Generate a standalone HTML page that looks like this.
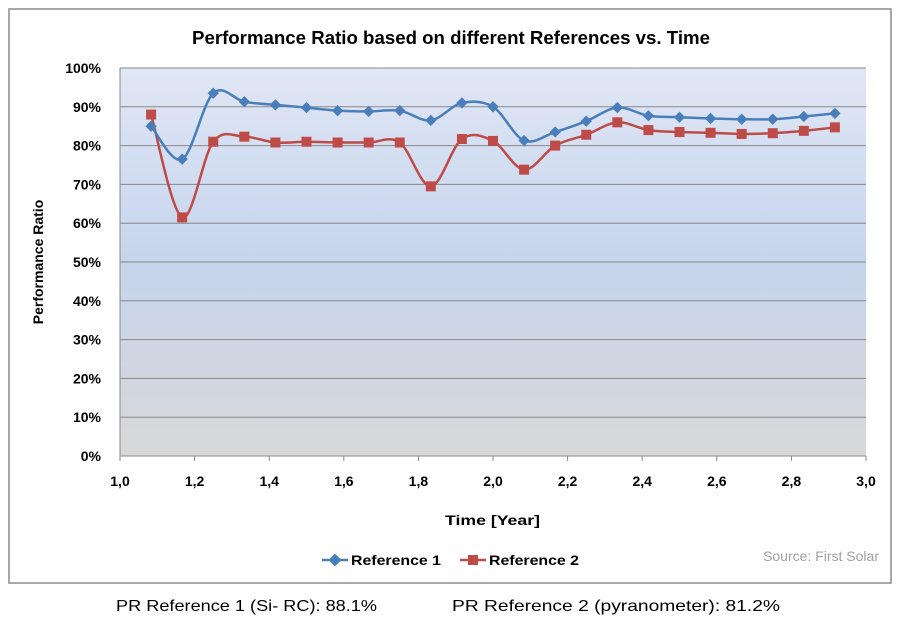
<!DOCTYPE html>
<html><head><meta charset="utf-8"><style>
body{margin:0;background:#fff;width:906px;height:628px;overflow:hidden;font-family:"Liberation Sans",sans-serif}
</style></head><body>
<svg id="s" width="906" height="628" xmlns="http://www.w3.org/2000/svg" font-family="Liberation Sans, sans-serif">
<defs>
<linearGradient id="g" x1="0" y1="0" x2="0" y2="1">
<stop offset="0" stop-color="#e0e7f5"/>
<stop offset="0.5" stop-color="#c6d4ec"/>
<stop offset="1" stop-color="#d8d8d8"/>
</linearGradient>
</defs>
<rect x="9" y="9" width="882" height="574" fill="#fff" stroke="#8c8c8c" stroke-width="1.5"/>
<text x="192" y="44" font-size="18" font-weight="bold" fill="#000" textLength="518" lengthAdjust="spacingAndGlyphs">Performance Ratio based on different References vs. Time</text>
<rect x="120" y="68" width="746" height="388" fill="url(#g)"/>
<g id="grid" stroke="#888" stroke-width="1"></g>
<line x1="120" y1="68" x2="120" y2="456" stroke="#888"/>
<g id="yl" font-size="14" font-weight="bold" text-anchor="end"></g>
<g id="xl" font-size="14" font-weight="bold" text-anchor="middle"></g>
<text x="445" y="525" font-size="14" font-weight="bold" textLength="95" lengthAdjust="spacingAndGlyphs">Time  [Year]</text>
<text transform="translate(43,262) rotate(-90)" text-anchor="middle" font-size="14" font-weight="bold">Performance Ratio</text>
<g id="series"></g>
<line x1="322" y1="560" x2="348" y2="560" stroke="#4a7ebb" stroke-width="2.5"/>
<rect x="330.5" y="555.5" width="9" height="9" fill="#4a7ebb" transform="rotate(45 335 560)"/>
<text x="351" y="565" font-size="14" font-weight="bold" textLength="90" lengthAdjust="spacingAndGlyphs">Reference 1</text>
<line x1="460" y1="560" x2="486" y2="560" stroke="#be4b48" stroke-width="2.5"/>
<rect x="468" y="555" width="10" height="10" fill="#be4b48"/>
<text x="489" y="565" font-size="14" font-weight="bold" textLength="90" lengthAdjust="spacingAndGlyphs">Reference 2</text>
<text x="879" y="561" text-anchor="end" font-size="14" fill="#a0a0a0">Source: First Solar</text>
<text x="116" y="611" font-size="16" textLength="261" lengthAdjust="spacingAndGlyphs">PR Reference 1 (Si- RC): 88.1%</text>
<text x="452" y="611" font-size="16" textLength="328" lengthAdjust="spacingAndGlyphs">PR Reference 2 (pyranometer): 81.2%</text>
</svg>
<script>
var NS="http://www.w3.org/2000/svg";
function el(p,t,a){var e=document.createElementNS(NS,t);for(var k in a)e.setAttribute(k,a[k]);document.getElementById(p).appendChild(e);return e;}
function X(v){return 120+(v-1)*373;}function Y(v){return 456-v*3.88;}
for(var i=0;i<=10;i++){var y=Y(i*10);el("grid","line",{x1:120,x2:866,y1:y,y2:y});
var t=el("yl","text",{x:101,y:y+5});t.textContent=(i*10)+"%";}
for(var i=0;i<=10;i++){var v=1+i*0.2,x=X(v);el("grid","line",{x1:x,x2:x,y1:456,y2:461});
var t=el("xl","text",{x:x,y:486});t.textContent=v.toFixed(1).replace(".",",");}
var r1=[85,76.5,93.5,91.3,90.5,89.8,89,88.8,89,86.5,91,90,81.3,83.5,86.3,89.8,87.7,87.3,87,86.8,86.8,87.5,88.3];
var r2=[88,61.5,81,82.3,80.8,81,80.8,80.8,80.8,69.5,81.7,81.2,73.8,80,82.8,86,84,83.5,83.3,83,83.2,83.8,84.7];
function path(d){var p=d.map(function(v,i){return[X(1+(i+1)/12),Y(v)];});var s="M"+p[0];
for(var i=0;i<p.length-1;i++){var a=p[i-1]||p[i],b=p[i],c=p[i+1],e=p[i+2]||c;
s+=" C"+(b[0]+(c[0]-a[0])/6)+","+(b[1]+(c[1]-a[1])/6)+" "+(c[0]-(e[0]-b[0])/6)+","+(c[1]-(e[1]-b[1])/6)+" "+c;}return[s,p];}
var a=path(r1),b=path(r2);
el("series","path",{d:b[0],fill:"none",stroke:"#be4b48","stroke-width":2.5});
el("series","path",{d:a[0],fill:"none",stroke:"#4a7ebb","stroke-width":2.5});
b[1].forEach(function(q){el("series","rect",{x:q[0]-5,y:q[1]-5,width:10,height:10,fill:"#be4b48"});});
a[1].forEach(function(q){el("series","rect",{x:q[0]-4,y:q[1]-4,width:8,height:8,fill:"#4a7ebb",transform:"rotate(45 "+q[0]+" "+q[1]+")"});});
</script>
</body></html>
